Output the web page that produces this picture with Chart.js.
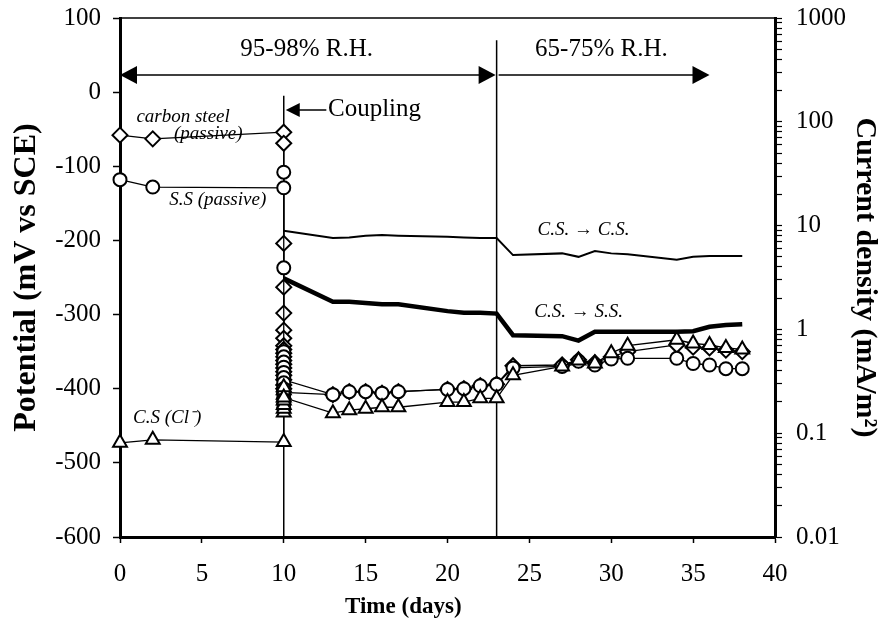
<!DOCTYPE html>
<html>
<head>
<meta charset="utf-8">
<script src="https://cdn.jsdelivr.net/npm/chart.js@4.4.1/dist/chart.umd.min.js"></script>
<style>
  html, body { margin: 0; padding: 0; background: #fff; }
</style>
</head>
<body>
<canvas id="chart" width="893" height="630"></canvas>
<script>
// ---- data ----

// carbon steel, passive (diamonds), mV vs SCE
const csDays = [0, 2, 10, 10, 10, 10, 10, 10, 10, 10, 10, 10, 10, 10, 10, 10, 10, 10, 10, 10, 10, 13, 14, 15, 16, 17, 20, 21, 22, 23, 24, 27, 28, 29, 30, 31, 34, 35, 36, 37, 38];
const csPotential = [-58, -63, -54, -69, -204, -263, -298, -321, -332, -342, -347, -352, -357, -362, -367, -372, -377, -382, -395, -400, -388, -408, -404, -404, -406, -404, -401, -400, -396, -394, -369, -368, -361, -365, -357, -350, -341, -344, -345, -348, -350];

// stainless steel, passive (circles)
const ssDays = [0, 2, 10, 10, 10, 10, 10, 10, 10, 10, 10, 10, 10, 10, 10, 10, 10, 10, 13, 14, 15, 16, 17, 20, 21, 22, 23, 24, 27, 28, 29, 30, 31, 34, 35, 36, 37, 38];
const ssPotential = [-118, -128, -129, -108, -237, -350, -357, -364, -371, -378, -385, -392, -400, -408, -414, -420, -426, -405, -408, -404, -404, -406, -404, -401, -400, -396, -394, -372, -370, -363, -368, -360, -359, -359, -366, -368, -373, -373];

// carbon steel with chloride (triangles)
const clDays = [0, 2, 10, 10, 10, 10, 10, 10, 10, 10, 10, 13, 14, 15, 16, 17, 20, 21, 22, 23, 24, 27, 28, 29, 30, 31, 34, 35, 36, 37, 38];
const clPotential = [-473, -469, -472, -432, -427, -422, -416, -408, -402, -398, -412, -433, -429, -427, -425, -425, -418, -418, -413, -413, -382, -370, -362, -366, -352, -342, -334, -339, -341, -345, -347];

// galvanic current density after coupling, mA/m2
const couplingDays = [10, 13, 14, 15, 16, 17, 20, 21, 22, 23, 24, 27, 28, 29, 30, 31, 34, 35, 36, 37, 38];
const csToCs = [8.9, 7.6, 7.7, 8.0, 8.1, 8.0, 7.8, 7.7, 7.6, 7.6, 5.2, 5.4, 5.0, 5.7, 5.4, 5.3, 4.7, 5.0, 5.1, 5.1, 5.1];
const csToSs = [3.1, 1.85, 1.85, 1.8, 1.75, 1.75, 1.5, 1.45, 1.45, 1.42, 0.88, 0.86, 0.78, 0.95, 0.95, 0.95, 0.95, 0.96, 1.06, 1.1, 1.12];

const xTicks = [0, 5, 10, 15, 20, 25, 30, 35, 40];
const leftTicks = [100, 0, -100, -200, -300, -400, -500, -600];
const rightTicks = [0.01, 0.1, 1, 10, 100, 1000];

const pts = (xs, ys) => xs.map((x, i) => ({ x: x, y: ys[i] }));

const SERIF = "'Liberation Serif', 'Times New Roman', serif";

// log axis: ticks at 1..9 x 10^n, labels only on decades
function logTicks(scale) {
  const list = [];
  for (let e = -2; e <= 2; e++) {
    for (let m = 1; m <= 9; m++) list.push({ value: +(m * Math.pow(10, e)).toPrecision(3) });
  }
  list.push({ value: 1000 });
  scale.ticks = list;
}

function arrowHead(ctx, x, y, dir, len, half) {
  ctx.beginPath();
  ctx.moveTo(x, y);
  ctx.lineTo(x - dir * len, y - half);
  ctx.lineTo(x - dir * len, y + half);
  ctx.closePath();
  ctx.fill();
}

const annotations = {
  id: "annotations",
  beforeDatasetsDraw(chart) {
    const { ctx, chartArea, scales } = chart;
    const x = scales.x, y = scales.y;
    ctx.save();
    ctx.strokeStyle = "#000";
    ctx.lineWidth = 1.5;
    // top frame line
    ctx.beginPath();
    ctx.moveTo(chartArea.left, chartArea.top);
    ctx.lineTo(chartArea.right, chartArea.top);
    ctx.stroke();
    // coupling line and humidity change
    ctx.beginPath();
    ctx.moveTo(x.getPixelForValue(10), y.getPixelForValue(-5));
    ctx.lineTo(x.getPixelForValue(10), chartArea.bottom);
    ctx.moveTo(x.getPixelForValue(23), y.getPixelForValue(70));
    ctx.lineTo(x.getPixelForValue(23), chartArea.bottom);
    ctx.stroke();
    ctx.restore();
  },
  afterDatasetsDraw(chart) {
    const { ctx, scales } = chart;
    const x = scales.x, y = scales.y;
    ctx.save();
    ctx.strokeStyle = "#000";
    ctx.fillStyle = "#000";
    ctx.lineWidth = 1.5;

    // humidity arrows
    const ay = y.getPixelForValue(23);
    const x0 = x.getPixelForValue(0), x23 = x.getPixelForValue(23), x36 = x.getPixelForValue(36);
    ctx.beginPath();
    ctx.moveTo(x0 + 4, ay); ctx.lineTo(x23 - 4, ay);
    ctx.moveTo(x23 + 2, ay); ctx.lineTo(x36 - 4, ay);
    ctx.stroke();
    arrowHead(ctx, x0, ay, -1, 17, 9);
    arrowHead(ctx, x23 - 1, ay, 1, 17, 9);
    arrowHead(ctx, x36, ay, 1, 17, 9);

    ctx.font = "25px " + SERIF;
    ctx.textAlign = "center";
    ctx.textBaseline = "middle";
    ctx.fillText("95-98% R.H.", x.getPixelForValue(11.4), y.getPixelForValue(57));
    ctx.fillText("65-75% R.H.", x.getPixelForValue(29.4), y.getPixelForValue(57));

    // coupling arrow
    const cy = y.getPixelForValue(-24);
    const x10 = x.getPixelForValue(10);
    ctx.beginPath();
    ctx.moveTo(x10 + 10, cy); ctx.lineTo(x.getPixelForValue(12.6), cy);
    ctx.stroke();
    arrowHead(ctx, x10 + 2, cy, -1, 14, 7);
    ctx.textAlign = "left";
    ctx.fillText("Coupling", x.getPixelForValue(12.7), cy);

    // handwritten labels
    ctx.font = "italic 19px " + SERIF;
    ctx.textAlign = "left";
    ctx.fillText("carbon steel", x.getPixelForValue(1.0), y.getPixelForValue(-33));
    ctx.fillText("(passive)", x.getPixelForValue(3.3), y.getPixelForValue(-57));
    ctx.fillText("S.S (passive)", x.getPixelForValue(3.0), y.getPixelForValue(-146));
    ctx.fillText("C.S (Cl\u207B)", x.getPixelForValue(0.8), y.getPixelForValue(-440));
    ctx.fillText("C.S. \u2192 C.S.", x.getPixelForValue(25.5), y.getPixelForValue(-186));
    ctx.fillText("C.S. \u2192 S.S.", x.getPixelForValue(25.3), y.getPixelForValue(-297));
    ctx.restore();
  },
  afterDraw(chart) {
    // x axis title sits left of the axis centre in the original
    const { ctx, scales } = chart;
    ctx.save();
    ctx.fillStyle = "#000";
    ctx.font = "bold 23px " + SERIF;
    ctx.textAlign = "center";
    ctx.textBaseline = "middle";
    ctx.fillText("Time (days)", scales.x.getPixelForValue(17.3), 607);
    ctx.restore();
  }
};

const markerBase = {
  showLine: true,
  borderColor: "#000",
  borderWidth: 1.3,
  pointBackgroundColor: "#fff",
  pointBorderColor: "#000",
  pointBorderWidth: 2,
  pointHoverRadius: 7,
  yAxisID: "y",
  clip: false
};

const ctx = document.getElementById("chart").getContext("2d");

new Chart(ctx, {
  type: "scatter",
  data: {
    datasets: [
      {
        label: "C.S. -> C.S.",
        data: pts(couplingDays, csToCs),
        showLine: true,
        borderColor: "#000",
        borderWidth: 2,
        pointRadius: 0,
        yAxisID: "y2"
      },
      {
        label: "C.S. -> S.S.",
        data: pts(couplingDays, csToSs),
        showLine: true,
        borderColor: "#000",
        borderWidth: 4.5,
        pointRadius: 0,
        yAxisID: "y2"
      },
      Object.assign({}, markerBase, {
        label: "C.S (Cl-)",
        data: pts(clDays, clPotential),
        pointStyle: "triangle",
        pointRadius: 8
      }),
      Object.assign({}, markerBase, {
        label: "S.S (passive)",
        data: pts(ssDays, ssPotential),
        pointStyle: "circle",
        pointRadius: 6.5
      }),
      Object.assign({}, markerBase, {
        label: "carbon steel (passive)",
        data: pts(csDays, csPotential),
        pointStyle: "rectRot",
        pointRadius: 7.5
      })
    ]
  },
  options: {
    responsive: false,
    animation: false,
    layout: { padding: { top: 18, left: 0, right: 0, bottom: 0 } },
    plugins: {
      legend: { display: false },
      tooltip: { enabled: false }
    },
    scales: {
      x: {
        type: "linear",
        min: 0,
        max: 40,
        afterFit: s => { s.height = 93; },
        afterBuildTicks: s => { s.ticks = xTicks.map(v => ({ value: v })); },
        border: { display: true, color: "#000", width: 3 },
        grid: { drawOnChartArea: false, drawTicks: true, tickLength: 6, tickColor: "#000", tickWidth: 1.5 },
        ticks: { color: "#000", padding: 16, font: { family: SERIF, size: 25 } },
        title: { display: false }
      },
      y: {
        type: "linear",
        position: "left",
        min: -600,
        max: 100,
        afterFit: s => { s.width = 120; },
        afterBuildTicks: s => { s.ticks = leftTicks.map(v => ({ value: v })); },
        border: { display: true, color: "#000", width: 3 },
        grid: { drawOnChartArea: false, drawTicks: true, tickLength: 7, tickColor: "#000", tickWidth: 1.5 },
        ticks: { color: "#000", padding: 12, font: { family: SERIF, size: 25, lineHeight: 0.2 } },
        title: {
          display: true,
          text: "Potential (mV vs SCE)",
          color: "#000",
          padding: { top: 8, bottom: 0 },
          font: { family: SERIF, size: 32, weight: "bold" }
        }
      },
      y2: {
        type: "logarithmic",
        position: "right",
        min: 0.01,
        max: 1000,
        afterFit: s => { s.width = 118; },
        afterBuildTicks: logTicks,
        border: { display: true, color: "#000", width: 3 },
        grid: { drawOnChartArea: false, drawTicks: true, tickLength: 7, tickColor: "#000", tickWidth: 1.2 },
        ticks: {
          color: "#000",
          padding: 14,
          autoSkip: false,
          font: { family: SERIF, size: 25, lineHeight: 0.2 },
          callback: v => (rightTicks.includes(v) ? String(v) : "")
        },
        title: {
          display: true,
          text: "Current density (mA/m\u00B2)",
          color: "#000",
          padding: { top: 10, bottom: 0 },
          font: { family: SERIF, size: 30, weight: "bold" }
        }
      }
    }
  },
  plugins: [annotations]
});
</script>
</body>
</html>
